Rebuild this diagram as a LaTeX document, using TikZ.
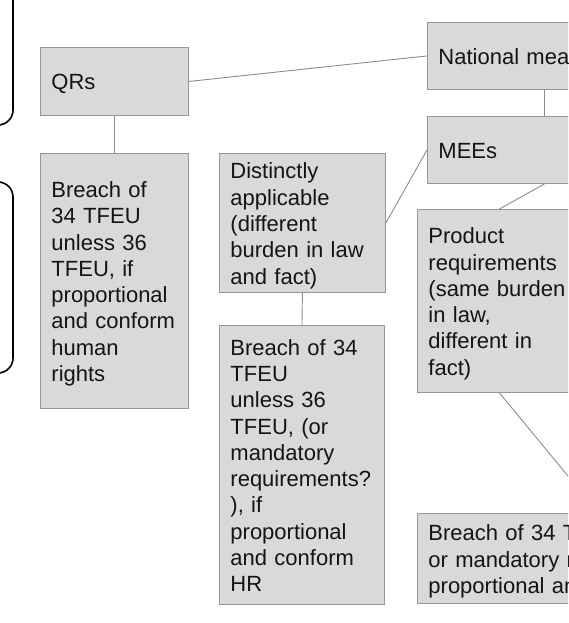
\documentclass[tikz,border=0pt]{standalone}
\usepackage{fontspec}
\setmainfont{Liberation Sans}
\definecolor{boxfill}{RGB}{217,217,217}
\definecolor{boxline}{RGB}{150,150,150}
\definecolor{linkc}{RGB}{140,140,140}
\definecolor{txt}{RGB}{20,20,20}
\begin{document}
\begin{tikzpicture}[x=1pt,y=-1pt,
  box/.style n args={3}{draw=boxline, fill=boxfill, line width=0.9pt,
    anchor=north west, inner xsep=11pt, inner ysep=0pt, align=left,
    minimum width=#1pt, minimum height=#2pt, text width=#3pt,
    text=txt, font=\fontsize{22pt}{26.3pt}\selectfont,
    execute at begin node={\rule{0pt}{21.7pt}},
    execute at end node={\rule[-4.6pt]{0pt}{4.6pt}}},
  link/.style={draw=linkc, line width=0.9pt},
  frame/.style={draw=black, line width=1.6pt, rounded corners=15pt}]
\useasboundingbox (0,0) rectangle (568,623);
\clip (0,0) rectangle (568,623);
% frames at the left edge
\draw[frame] (-80,-60) rectangle (13,125);
\draw[frame] (-80,182) rectangle (13,373);
% boxes
\node[box={148}{68}{126}] (qrs) at (40,47) {QRs};
\node[box={148}{255}{126}] (breachA) at (40,153)
  {Breach of\\34 TFEU\\unless 36\\TFEU, if\\proportional\\and conform\\human\\rights};
\node[box={166}{139}{144}] (dist) at (219,153)
  {Distinctly\\applicable\\(different\\burden in law\\and fact)};
\node[box={234}{67}{212}] (nat) at (427,22) {National measures};
\node[box={234}{67}{212}] (mees) at (427,116) {MEEs};
\node[box={164}{183}{142}] (prod) at (417,209)
  {Product\\requirements\\(same burden\\in law,\\different in\\fact)};
\node[box={165}{279}{143}] (breachB) at (219,325)
  {Breach of 34\\TFEU\\unless 36\\TFEU, (or\\mandatory\\requirements?\\), if\\proportional\\and conform\\HR};
\node[box={362}{90}{340}] (breachC) at (417,513)
  {Breach of 34 TFEU\\or mandatory requirements\\proportional and};
% connectors
\draw[link] (qrs.east) -- (nat.west);
\draw[link] (qrs.south) -- (breachA.north);
\draw[link] (nat.south) -- (mees.north);
\draw[link] (mees.west) -- (dist.east);
\draw[link] (dist.south) -- (breachB.north);
\draw[link] (mees.south) -- (prod.north);
\draw[link] (prod.south) -- (breachC.north);
\end{tikzpicture}
\end{document}
